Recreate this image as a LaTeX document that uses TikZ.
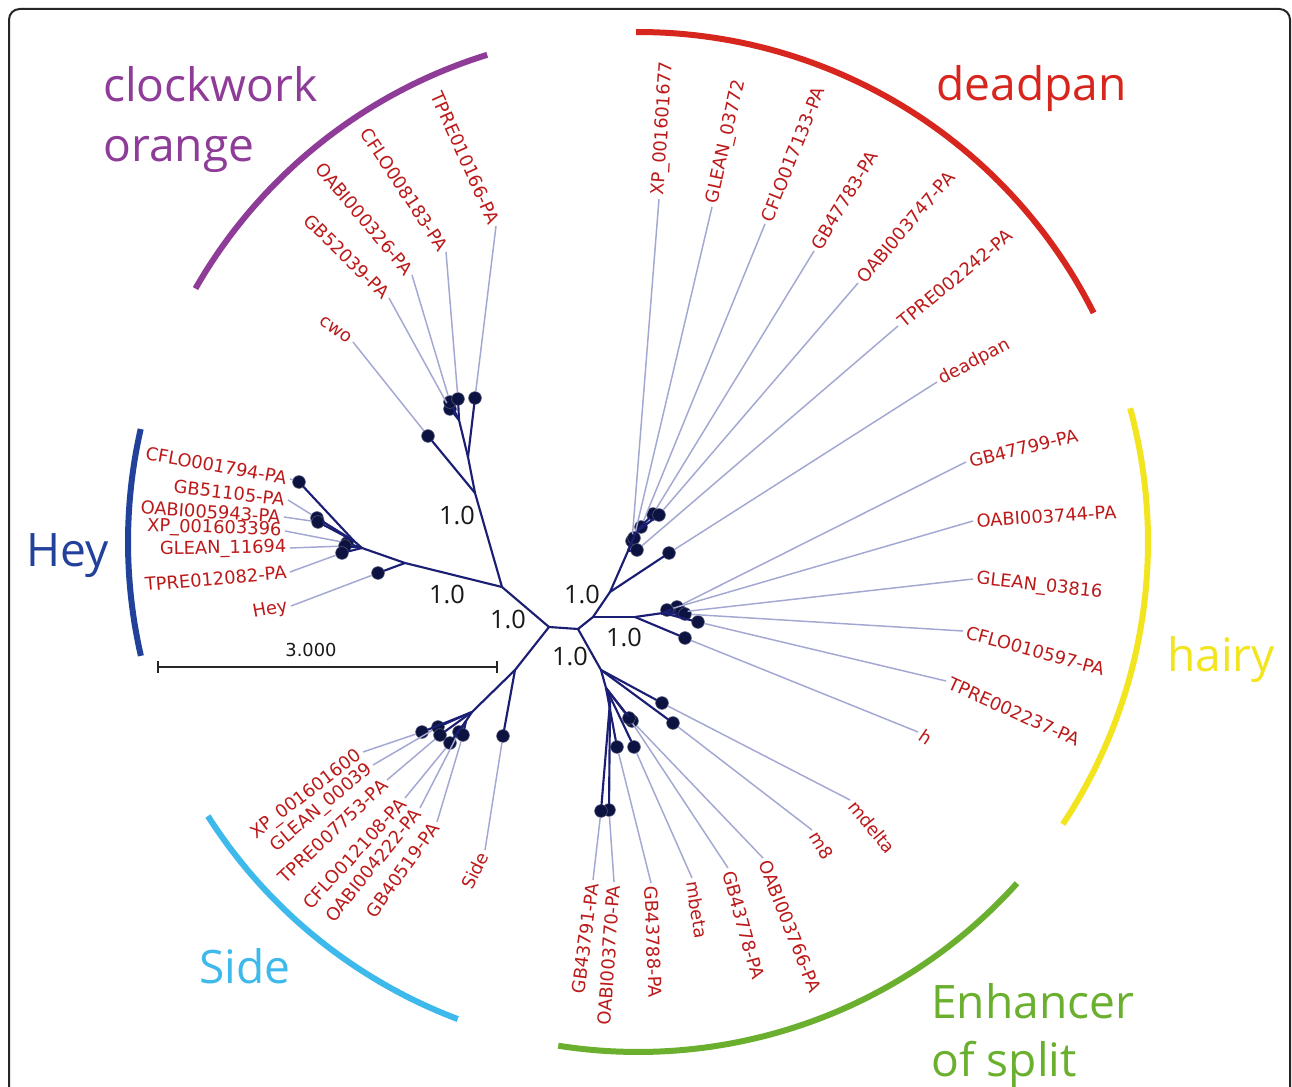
\documentclass[tikz,border=0pt]{standalone}
\usepackage{fontspec}
\usetikzlibrary{calc}
\newfontfamily\leaffont{DejaVu Sans}
\newfontfamily\titlefont{Open Sans}
\definecolor{navy}{HTML}{1B1F74}
\definecolor{dotc}{HTML}{0D1340}
\definecolor{lightl}{HTML}{A3A8D2}
\definecolor{leafred}{HTML}{BC1A1A}
\definecolor{cwoc}{HTML}{8E3C97}
\definecolor{dpnc}{HTML}{D7261E}
\definecolor{heyc}{HTML}{22419A}
\definecolor{hryc}{HTML}{F2E41E}
\definecolor{esc}{HTML}{6AB02E}
\definecolor{sidec}{HTML}{3DB9EC}
\tikzset{
  leaf/.style={font=\leaffont\fontsize{13.4}{16}\selectfont, text=leafred, inner sep=2.5pt},
  br/.style={draw=navy, line width=1.6pt, line cap=round},
  ll/.style={draw=lightl, line width=1.1pt},
  dot/.style={circle, fill=dotc, draw=dotc!70!white, line width=0.4pt, minimum size=9.6pt, inner sep=0pt},
  bsup/.style={font=\titlefont\fontsize{19}{21}\selectfont, text=black!90, inner sep=0pt},
  title/.style={font=\titlefont\fontsize{34.6}{40}\selectfont, inner sep=0pt, anchor=base west},
  grparc/.style={line width=4.5pt},
  sbar/.style={draw=black!85, line width=1pt},
  frame/.style={draw=black!85, line width=1.5pt, rounded corners=8pt}
}
\newcommand\leafR[3]{\path let \p1=($(#2)-(C)$), \n1={atan2(\y1,\x1)} in node[leaf,anchor=west,rotate=\n1] (#1) at (#2) {#3};}
\newcommand\leafL[3]{\path let \p1=($(#2)-(C)$), \n1={atan2(\y1,\x1)+180} in node[leaf,anchor=east,rotate=\n1] (#1) at (#2) {#3};}
\begin{document}
\begin{tikzpicture}[x=0.75pt,y=-0.75pt]
\useasboundingbox (0,0) rectangle (1292,1087);
\fill[white] (0,0) rectangle (1292,1087);
\draw[frame] (9,9) rectangle (1290,1130);
\coordinate (C) at (638,542);

% group arcs
\draw[grparc, cwoc] plot[domain=107.2:150.2, samples=60] ({638+510*cos(\x)},{542-510*sin(\x)});
\draw[grparc, dpnc] plot[domain=26.7:90.2, samples=60] ({638+510*cos(\x)},{542-510*sin(\x)});
\draw[grparc, hryc] plot[domain=-33.6:15.2, samples=60] ({638+510*cos(\x)},{542-510*sin(\x)});
\draw[grparc, esc] plot[domain=-99:-42, samples=60] ({638+510*cos(\x)},{542-510*sin(\x)});
\draw[grparc, sidec] plot[domain=212.5:249.3, samples=60] ({638+510*cos(\x)},{542-510*sin(\x)});
\draw[grparc, heyc] plot[domain=167.2:192.9, samples=60] ({638+510*cos(\x)},{542-510*sin(\x)});

% group titles
\node[title, text=cwoc] (tC1) at (103,102) {clockwork};
\node[title, text=cwoc] (tC2) at (103,162) {orange};
\node[title, text=dpnc] (tD) at (936,101) {deadpan};
\node[title, text=heyc] (tH) at (26,566) {Hey};
\node[title, text=hryc] (tR) at (1167,671) {hairy};
\node[title, text=sidec] (tS) at (199,983) {Side};
\node[title, text=esc] (tE1) at (931,1018) {Enhancer};
\node[title, text=esc] (tE2) at (931,1076) {of split};

% leaf dots
\node[dot] (k1) at (428,436) {};
\node[dot] (k2) at (450,409) {};
\node[dot] (k3) at (450,402) {};
\node[dot] (k4) at (458,399) {};
\node[dot] (k5) at (475,398) {};
\node[dot] (hy1) at (299,482) {};
\node[dot] (hy2) at (317,518) {};
\node[dot] (hy3) at (318,522) {};
\node[dot] (hy4) at (347,543) {};
\node[dot] (hy5) at (345,546) {};
\node[dot] (hy6) at (342,553) {};
\node[dot] (hy7) at (378,573) {};
\node[dot] (dp1) at (632,541) {};
\node[dot] (dp2) at (634,538) {};
\node[dot] (dp3) at (641,527) {};
\node[dot] (dp4) at (653,514) {};
\node[dot] (dp5) at (659,515) {};
\node[dot] (dp6) at (637,550) {};
\node[dot] (dp7) at (669,553) {};
\node[dot] (hr1) at (677,607) {};
\node[dot] (hr2) at (667,610) {};
\node[dot] (hr3) at (681,612) {};
\node[dot] (hr4) at (685,614) {};
\node[dot] (hr5) at (698,622) {};
\node[dot] (hr6) at (685,638) {};
\node[dot] (es1) at (662,703) {};
\node[dot] (es2) at (673,723) {};
\node[dot] (es3) at (632,721) {};
\node[dot] (es4) at (629,718) {};
\node[dot] (es5) at (634,747) {};
\node[dot] (es6) at (617,747) {};
\node[dot] (es7) at (609,810) {};
\node[dot] (es8) at (601,811) {};
\node[dot] (sd1) at (422,732) {};
\node[dot] (sd2) at (438,727) {};
\node[dot] (sd3) at (440,735) {};
\node[dot] (sd4) at (450,743) {};
\node[dot] (sd5) at (459,732) {};
\node[dot] (sd6) at (463,735) {};
\node[dot] (sd7) at (503,736) {};

% internal coordinates
\coordinate (A) at (549,627);
\coordinate (B) at (578,629);
\coordinate (D) at (502,587);
\coordinate (c0) at (475,493);
\coordinate (c1) at (468,457);
\coordinate (c2) at (459,420);
\coordinate (y1) at (405,563);
\coordinate (y2) at (362,548);
\coordinate (y3) at (354,541);
\coordinate (s0) at (515,670);
\coordinate (s1) at (472,712);
\coordinate (s2) at (466,721);
\coordinate (e0) at (601,670);
\coordinate (e2) at (606,688);
\coordinate (e4) at (610,702);
\coordinate (d0) at (593,617);
\coordinate (h0) at (635,617);
\coordinate (h1) at (663,613);
\coordinate (d1) at (610,592);
\coordinate (d2) at (628,551);
\coordinate (d3) at (636,532);

% branches
\draw[br] (A) -- (B);
\draw[br] (A) -- (D);
\draw[br] (D) -- (c0);
\draw[br] (c0) -- (k1);
\draw[br] (c0) -- (c1);
\draw[br] (c1) -- (k5);
\draw[br] (c1) -- (c2);
\draw[br] (c2) -- (k2);
\draw[br] (c2) -- (k3);
\draw[br] (c2) -- (k4);
\draw[br] (D) -- (y1);
\draw[br] (y1) -- (hy7);
\draw[br] (y1) -- (y2);
\draw[br] (y2) -- (y3);
\draw[br] (y3) -- (hy1);
\draw[br] (y3) -- (hy2);
\draw[br] (y3) -- (hy3);
\draw[br] (y2) -- (hy4);
\draw[br] (y2) -- (hy5);
\draw[br] (y2) -- (hy6);
\draw[br] (A) -- (s0);
\draw[br] (s0) -- (sd7);
\draw[br] (s0) -- (s1);
\draw[br] (s1) -- (sd1);
\draw[br] (s1) -- (sd2);
\draw[br] (s1) -- (sd3);
\draw[br] (s1) -- (s2);
\draw[br] (s2) -- (sd4);
\draw[br] (s2) -- (sd5);
\draw[br] (s2) -- (sd6);
\draw[br] (B) -- (e0);
\draw[br] (e0) -- (es1);
\draw[br] (e0) -- (es2);
\draw[br] (e0) -- (e2);
\draw[br] (e2) -- (es3);
\draw[br] (e2) -- (es4);
\draw[br] (e2) -- (es5);
\draw[br] (e2) -- (es6);
\draw[br] (e2) -- (e4);
\draw[br] (e4) -- (es7);
\draw[br] (e4) -- (es8);
\draw[br] (B) -- (d0);
\draw[br] (d0) -- (h0);
\draw[br] (h0) -- (h1);
\draw[br] (h1) -- (hr1);
\draw[br] (h1) -- (hr2);
\draw[br] (h1) -- (hr3);
\draw[br] (h1) -- (hr4);
\draw[br] (h1) -- (hr5);
\draw[br] (h0) -- (hr6);
\draw[br] (d0) -- (d1);
\draw[br] (d1) -- (dp7);
\draw[br] (d1) -- (d2);
\draw[br] (d2) -- (dp6);
\draw[br] (d2) -- (dp1);
\draw[br] (d2) -- (dp2);
\draw[br] (d2) -- (d3);
\draw[br] (d3) -- (dp3);
\draw[br] (d3) -- (dp4);
\draw[br] (d3) -- (dp5);

% support values
\node[bsup] (bs1) at (457,515) {1.0};
\node[bsup] (bs2) at (447,594) {1.0};
\node[bsup] (bs3) at (508,619) {1.0};
\node[bsup] (bs4) at (582,594) {1.0};
\node[bsup] (bs5) at (624,637) {1.0};
\node[bsup] (bs6) at (570,656) {1.0};

% leaf labels: clockwork orange
\leafL{Lk1}{353,342}{cwo}
\leafL{Lk2}{389,298}{GB52039-PA}
\leafL{Lk3}{412,275}{OABI000326-PA}
\leafL{Lk4}{446,252}{CFLO008183-PA}
\leafL{Lk5}{496,226}{TPRE010166-PA}
% Hey
\leafL{Lhy1}{290,479}{CFLO001794-PA}
\leafL{Lhy2}{288,500}{GB51105-PA}
\leafL{Lhy3}{284,517}{OABI005943-PA}
\leafL{Lhy4}{285,531}{XP\_001603396}
\leafL{Lhy5}{290,548}{GLEAN\_11694}
\leafL{Lhy6}{290,572}{TPRE012082-PA}
\leafL{Lhy7}{291,606}{Hey}
% deadpan
\leafR{Ldp1}{659,199}{XP\_001601677}
\leafR{Ldp2}{712,207}{GLEAN\_03772}
\leafR{Ldp3}{765,224}{CFLO017133-PA}
\leafR{Ldp4}{814,251}{GB47783-PA}
\leafR{Ldp5}{858,283}{OABI003747-PA}
\leafR{Ldp6}{898,326}{TPRE002242-PA}
\leafR{Ldp7}{937,382}{deadpan}
% hairy
\leafR{Lhr1}{966,462}{GB47799-PA}
\leafR{Lhr2}{973,521}{OABI003744-PA}
\leafR{Lhr3}{973,579}{GLEAN\_03816}
\leafR{Lhr4}{963,631}{CFLO010597-PA}
\leafR{Lhr5}{946,681}{TPRE002237-PA}
\leafR{Lhr6}{918,732}{h}
% Enhancer of split
\leafR{Les1}{850,800}{mdelta}
\leafR{Les2}{812,830}{m8}
\leafR{Les3}{763,858}{OABI003766-PA}
\leafR{Les4}{728,868}{GB43778-PA}
\leafR{Les5}{692,878}{mbeta}
\leafR{Les6}{651,883}{GB43788-PA}
\leafL{Les7}{614,882}{OABI003770-PA}
\leafL{Les8}{593,880}{GB43791-PA}
% Side
\leafL{Lsd1}{363,752}{XP\_001601600}
\leafL{Lsd2}{373,765}{GLEAN\_00039}
\leafL{Lsd3}{387,780}{TPRE007753-PA}
\leafL{Lsd4}{405,798}{CFLO012108-PA}
\leafL{Lsd5}{420,808}{OABI004222-PA}
\leafL{Lsd6}{437,822}{GB40519-PA}
\leafL{Lsd7}{485,850}{Side}

% leaf lines
\foreach \n in {k1,k2,k3,k4,k5,hy1,hy2,hy3,hy4,hy5,hy6,hy7,es7,es8,sd1,sd2,sd3,sd4,sd5,sd6,sd7}
  \draw[ll] (\n) -- (L\n.east);
\foreach \n in {dp1,dp2,dp3,dp4,dp5,dp6,dp7,hr1,hr2,hr3,hr4,hr5,hr6,es1,es2,es3,es4,es5,es6}
  \draw[ll] (\n) -- (L\n.west);

% scale bar
\coordinate (sb1) at (158,667);
\coordinate (sb2) at (497,667);
\draw[sbar] (sb1) -- (sb2);
\draw[sbar] ($(sb1)+(0,-6)$) -- ($(sb1)+(0,6)$);
\draw[sbar] ($(sb2)+(0,-6)$) -- ($(sb2)+(0,6)$);
\node[font=\leaffont\fontsize{13.4}{16}\selectfont, text=black!90, inner sep=0pt] (sbt) at (311,650) {3.000};
\end{tikzpicture}
\end{document}
